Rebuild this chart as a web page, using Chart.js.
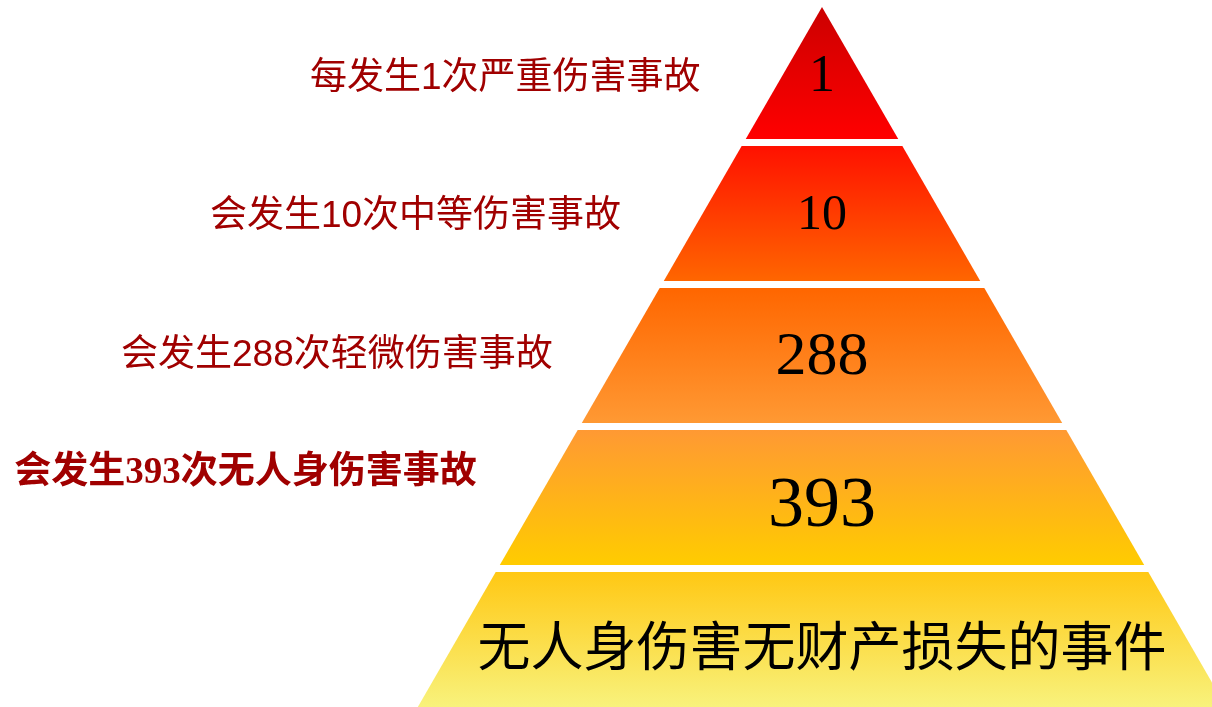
<!DOCTYPE html>
<html>
<head>
<meta charset="utf-8">
<script src="https://cdn.jsdelivr.net/npm/chart.js@4.4.1/dist/chart.umd.min.js"></script>
<style>
  html, body { margin: 0; padding: 0; background: #fff; }
  #wrap { width: 1212px; height: 707px; position: relative; }
</style>
</head>
<body>
<div id="wrap"><canvas id="pyramid"></canvas></div>
<script>
// layers listed from the top of the pyramid down
const levelLabels = ['每发生1次严重伤害事故', '会发生10次中等伤害事故', '会发生288次轻微伤害事故', '会发生393次无人身伤害事故'];
const counts = [1, 10, 288, 393];
const baseLabel = '无人身伤害无财产损失的事件';
const layerText = counts.map(String).concat([baseLabel]);

const topColors = ['#cc0000', '#ff1100', '#ff6600', '#ff9933', '#ffc814'];
const bottomColors = ['#ff0000', '#ff6600', '#ff9933', '#ffcc00', '#f8f27c'];

const nLayers = layerText.length;   // 5
const APEX = 4.955;                  // the top layer is a little shorter
const GAP = 0.025;                   // half of white gap between layers
const SLOPE = Math.tan(Math.PI / 6); // equilateral sides
const PX = 142;                      // pixels per level

function halfWidth(y) { return (APEX - y) * SLOPE; }

const datasets = layerText.map(function(t, i) {
    const top = i === 0 ? APEX : nLayers - i - GAP;
    const bot = nLayers - i - 1 + GAP;
    return {
        label: t,
        data: [
            { x: -halfWidth(top), y: top },
            { x: halfWidth(top), y: top },
            { x: halfWidth(bot), y: bot },
            { x: -halfWidth(bot), y: bot },
            { x: -halfWidth(top), y: top }
        ],
        showLine: true,
        fill: 'shape',
        borderWidth: 0,
        pointRadius: 0,
        tension: 0,
        backgroundColor: function(ctx) {
            const chart = ctx.chart;
            if (!chart.chartArea || !chart.scales.y) return bottomColors[i];
            const y0 = chart.scales.y.getPixelForValue(top);
            const y1 = chart.scales.y.getPixelForValue(bot);
            const g = chart.ctx.createLinearGradient(0, y0, 0, y1);
            g.addColorStop(0, topColors[i]);
            g.addColorStop(1, bottomColors[i]);
            return g;
        }
    };
});

// text inside layers and labels to the left
const textPlugin = {
    id: 'pyramidText',
    afterDatasetsDraw(chart) {
        const c = chart.ctx, xs = chart.scales.x, ys = chart.scales.y;
        const numSizes = [52, 50, 62, 72];
        const numLevels = [4.47, 3.5, 2.5, 1.45, 0.48];
        c.save();
        c.textBaseline = 'middle';
        c.textAlign = 'center';
        c.fillStyle = '#000';
        layerText.forEach(function(t, i) {
            const yc = ys.getPixelForValue(numLevels[i]);
            if (i < counts.length) {
                c.font = numSizes[i] + 'px "Liberation Serif", "Times New Roman", serif';
                c.fillText(t, xs.getPixelForValue(0), yc + 2);
            } else {
                c.font = '53px "Noto Sans CJK SC", sans-serif';
                c.fillText(t, xs.getPixelForValue(0), yc + 3);
            }
        });
        // left labels
        const labelLevels = [4.45, 3.48, 2.5, 1.67];
        const offsets = [80, 80, 68, 76];
        c.textAlign = 'right';
        c.fillStyle = '#a00000';
        levelLabels.forEach(function(t, i) {
            const lv = labelLevels[i];
            const yp = ys.getPixelForValue(lv);
            const xp = xs.getPixelForValue(-halfWidth(lv)) - offsets[i];
            if (i === levelLabels.length - 1) {
                c.font = 'bold 37px "Liberation Serif", "Noto Sans CJK SC", serif';
            } else {
                c.font = '37px "Liberation Sans", "Noto Sans CJK SC", sans-serif';
            }
            c.fillText(t, xp, yp);
        });
        c.restore();
    }
};

new Chart(document.getElementById('pyramid'), {
    type: 'scatter',
    data: { datasets: datasets },
    options: {
        responsive: true,
        maintainAspectRatio: false,
        animation: false,
        layout: { padding: 0 },
        plugins: {
            legend: { display: false },
            tooltip: { enabled: false }
        },
        scales: {
            x: { display: false, min: -822 / PX, max: 390 / PX },
            y: { display: false, min: GAP, max: GAP + 707 / PX }
        }
    },
    plugins: [textPlugin]
});
</script>
</body>
</html>
